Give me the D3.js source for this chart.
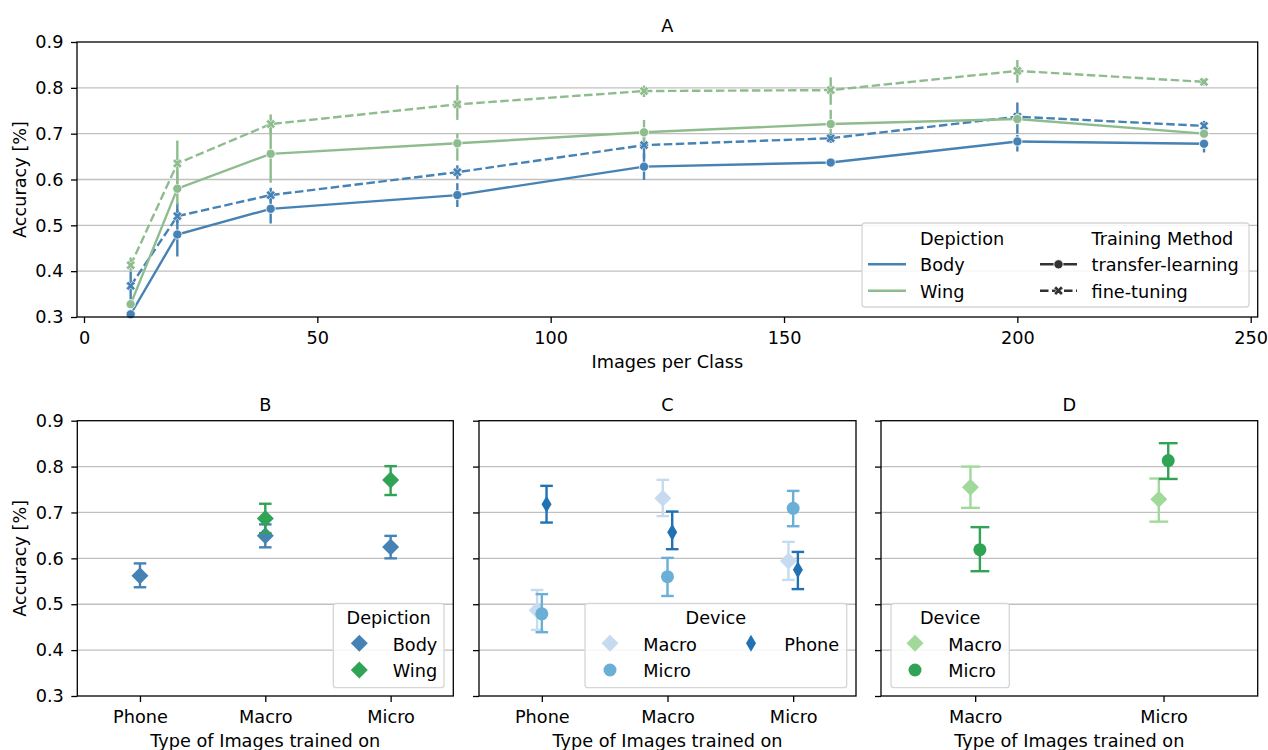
<!DOCTYPE html>
<html>
<head>
<meta charset="utf-8">
<script src="https://cdn.jsdelivr.net/npm/d3@7"></script>
<style>
  body { margin: 0; background: #fff; }
  svg text { font-family: "DejaVu Sans", sans-serif; font-size: 17.7px; fill: #000; }
</style>
</head>
<body>
<svg id="chart" width="1268" height="750"></svg>
<script>
// ---- data: panel A (accuracy vs images per class) ----
var sizes = [10, 20, 40, 80, 120, 160, 200, 240];

var bodyTransfer   = [0.306, 0.480, 0.536, 0.566, 0.628, 0.637, 0.683, 0.678];
var bodyTransferLo = [0.300, 0.432, 0.504, 0.540, 0.599, 0.632, 0.661, 0.659];
var bodyTransferHi = [0.312, 0.549, 0.566, 0.592, 0.657, 0.642, 0.697, 0.686];

var bodyFine   = [0.368, 0.520, 0.566, 0.616, 0.675, 0.690, 0.737, 0.717];
var bodyFineLo = [0.337, 0.505, 0.552, 0.601, 0.645, 0.680, 0.700, 0.705];
var bodyFineHi = [0.399, 0.535, 0.582, 0.631, 0.700, 0.700, 0.768, 0.728];

var wingTransfer   = [0.328, 0.580, 0.656, 0.679, 0.703, 0.721, 0.732, 0.700];
var wingTransferLo = [0.320, 0.545, 0.593, 0.641, 0.680, 0.700, 0.720, 0.690];
var wingTransferHi = [0.336, 0.620, 0.720, 0.700, 0.730, 0.752, 0.745, 0.710];

var wingFine   = [0.413, 0.635, 0.721, 0.764, 0.793, 0.795, 0.837, 0.813];
var wingFineLo = [0.400, 0.590, 0.700, 0.730, 0.780, 0.763, 0.811, 0.805];
var wingFineHi = [0.430, 0.685, 0.742, 0.806, 0.805, 0.823, 0.861, 0.820];

var sizeTicks = [0, 50, 100, 150, 200, 250];
var accTicks = [0.3, 0.4, 0.5, 0.6, 0.7, 0.8, 0.9];

// ---- data: panel B (depiction) ----
var bCats = ["Phone", "Macro", "Micro"];
var bBody   = [0.562, 0.649, 0.625];
var bBodyLo = [0.537, 0.624, 0.600];
var bBodyHi = [0.589, 0.674, 0.649];
var bWing   = [null, 0.687, 0.771];
var bWingLo = [null, 0.655, 0.738];
var bWingHi = [null, 0.719, 0.801];

// ---- data: panel C (body, by device) ----
var cCats = ["Phone", "Macro", "Micro"];
var cMacro   = [0.487, 0.731, 0.594];
var cMacroLo = [0.444, 0.692, 0.553];
var cMacroHi = [0.531, 0.771, 0.636];
var cMicro   = [0.479, 0.560, 0.709];
var cMicroLo = [0.439, 0.518, 0.670];
var cMicroHi = [0.522, 0.601, 0.747];
var cPhone   = [0.718, 0.657, 0.575];
var cPhoneLo = [0.678, 0.620, 0.533];
var cPhoneHi = [0.758, 0.702, 0.614];

// ---- data: panel D (wing, by device) ----
var dCats = ["Macro", "Micro"];
var dMacro   = [0.755, 0.729];
var dMacroLo = [0.710, 0.680];
var dMacroHi = [0.800, 0.774];
var dMicro   = [0.619, 0.813];
var dMicroLo = [0.572, 0.773];
var dMicroHi = [0.668, 0.851];

var svg = d3.select("#chart");
var GRID = "#c0c0c0";

function yFrame(x0, x1, y0, y1, showLabels) {
  var y = d3.scaleLinear().domain([0.3, 0.9]).range([y1, y0]);
  var g = svg.append("g");
  g.selectAll("line.grid").data(accTicks.slice(1, -1)).enter().append("line")
    .attr("class", "grid")
    .attr("x1", x0).attr("x2", x1)
    .attr("y1", function(d) { return y(d); }).attr("y2", function(d) { return y(d); })
    .attr("stroke", GRID).attr("stroke-width", 1.3);
  var ax = svg.append("g").attr("transform", "translate(" + x0 + ",0)")
    .call(d3.axisLeft(y).tickValues(accTicks).tickSize(6).tickPadding(7.5)
      .tickFormat(showLabels ? d3.format(".1f") : function() { return ""; }));
  ax.select(".domain").remove();
  ax.selectAll("line").attr("stroke", "#000").attr("stroke-width", 1.3);
  return y;
}

function spines(x0, x1, y0, y1) {
  svg.append("rect").attr("x", x0).attr("y", y0).attr("width", x1 - x0).attr("height", y1 - y0)
    .attr("fill", "none").attr("stroke", "#000").attr("stroke-width", 1.3);
}

function xPath(cx, cy, s, t) {
  var pts = [[t,s],[t,t],[s,t],[s,-t],[t,-t],[t,-s],[-t,-s],[-t,-t],[-s,-t],[-s,t],[-t,t],[-t,s]];
  var c = Math.SQRT1_2;
  return "M" + pts.map(function(p) {
    return [cx + (p[0] - p[1]) * c, cy + (p[0] + p[1]) * c].join(",");
  }).join("L") + "Z";
}

function marker(g, shape, cx, cy, color, edge) {
  if (shape === "o") {
    g.append("circle").attr("cx", cx).attr("cy", cy).attr("r", 6.5).attr("fill", color);
  } else if (shape === "D" || shape === "d") {
    var w = shape === "D" ? 8.5 : 5, h = 8.5;
    g.append("path").attr("d", "M" + cx + "," + (cy - h) + "L" + (cx + w) + "," + cy +
      "L" + cx + "," + (cy + h) + "L" + (cx - w) + "," + cy + "Z").attr("fill", color);
  } else if (shape === "small-o") {
    g.append("circle").attr("cx", cx).attr("cy", cy).attr("r", 4.6).attr("fill", color)
      .attr("stroke", edge || "#fff").attr("stroke-width", 0.8);
  } else if (shape === "X") {
    g.append("path").attr("d", xPath(cx, cy, 5, 1.6)).attr("fill", color)
      .attr("stroke", edge || "#fff").attr("stroke-width", 0.6);
  }
}

// =============== Panel A ===============
var A = { x0: 77, x1: 1257.7, y0: 42, y1: 317 };
var xA = d3.scaleLinear().domain([-1.5, 251.5]).range([A.x0, A.x1]);
var yA = yFrame(A.x0, A.x1, A.y0, A.y1, true);

var axA = svg.append("g").attr("transform", "translate(0," + A.y1 + ")")
  .call(d3.axisBottom(xA).tickValues(sizeTicks).tickSize(6).tickPadding(8));
axA.select(".domain").remove();
axA.selectAll("line").attr("stroke-width", 1.3);

var depColor = { Body: "#4682b4", Wing: "#8fbc8f" };
var aSeries = [
  { dep: "Body", method: "transfer", mean: bodyTransfer, lo: bodyTransferLo, hi: bodyTransferHi },
  { dep: "Body", method: "fine", mean: bodyFine, lo: bodyFineLo, hi: bodyFineHi },
  { dep: "Wing", method: "transfer", mean: wingTransfer, lo: wingTransferLo, hi: wingTransferHi },
  { dep: "Wing", method: "fine", mean: wingFine, lo: wingFineLo, hi: wingFineHi }
];

var lineA = d3.line().x(function(d) { return xA(d[0]); }).y(function(d) { return yA(d[1]); });

aSeries.forEach(function(s) {
  var col = depColor[s.dep];
  var g = svg.append("g");
  g.append("path").datum(sizes.map(function(x, i) { return [x, s.mean[i]]; }))
    .attr("d", lineA).attr("fill", "none").attr("stroke", col).attr("stroke-width", 2.4)
    .attr("stroke-dasharray", s.method === "fine" ? "8.5,3.5" : null);
  g.selectAll("line.err").data(sizes).enter().append("line")
    .attr("x1", function(d) { return xA(d); }).attr("x2", function(d) { return xA(d); })
    .attr("y1", function(d, i) { return yA(s.lo[i]); })
    .attr("y2", function(d, i) { return yA(s.hi[i]); })
    .attr("stroke", col).attr("stroke-width", 2.4);
  sizes.forEach(function(x, i) {
    marker(g, s.method === "fine" ? "X" : "small-o", xA(x), yA(s.mean[i]), col);
  });
});
spines(A.x0, A.x1, A.y0, A.y1);

svg.append("text").attr("x", (A.x0 + A.x1) / 2).attr("y", 31.5).attr("text-anchor", "middle").text("A");
svg.append("text").attr("x", (A.x0 + A.x1) / 2).attr("y", 367.5).attr("text-anchor", "middle").text("Images per Class");
svg.append("text").attr("transform", "translate(26," + (A.y0 + A.y1) / 2 + ") rotate(-90)")
  .attr("text-anchor", "middle").text("Accuracy [%]");

// legend A
var lgA = svg.append("g");
lgA.append("rect").attr("x", 862).attr("y", 223).attr("width", 387).attr("height", 84).attr("rx", 3)
  .attr("fill", "#fff").attr("fill-opacity", 0.85).attr("stroke", "#d6d6d6").attr("stroke-width", 1.3);
lgA.append("text").attr("x", 920).attr("y", 245).text("Depiction");
lgA.append("text").attr("x", 1091.5).attr("y", 245).text("Training Method");
[["Body", 271, 264.3], ["Wing", 297.5, 290.7]].forEach(function(e) {
  lgA.append("line").attr("x1", 868).attr("x2", 906).attr("y1", e[2]).attr("y2", e[2])
    .attr("stroke", depColor[e[0]]).attr("stroke-width", 2.4);
  lgA.append("text").attr("x", 920).attr("y", e[1]).text(e[0]);
});
[["transfer-learning", 271, 264.3, null, "small-o"], ["fine-tuning", 297.5, 290.7, "8.5,3.5", "X"]].forEach(function(e) {
  lgA.append("line").attr("x1", 1040).attr("x2", 1077).attr("y1", e[2]).attr("y2", e[2])
    .attr("stroke", "#333").attr("stroke-width", 2.4).attr("stroke-dasharray", e[3]);
  marker(lgA, e[4], 1058.5, e[2], "#333");
  lgA.append("text").attr("x", 1091.5).attr("y", e[1]).text(e[0]);
});

// =============== Panels B, C, D ===============
function pointPanel(opt) {
  var x0 = opt.x0, x1 = opt.x1, y0 = 420.7, y1 = 696;
  var y = yFrame(x0, x1, y0, y1, opt.yLabels);
  var x = d3.scalePoint().domain(opt.cats).range([x0, x1]).padding(0.5);
  var ax = svg.append("g").attr("transform", "translate(0," + y1 + ")")
    .call(d3.axisBottom(x).tickSize(6).tickPadding(8));
  ax.select(".domain").remove();
  ax.selectAll("line").attr("stroke-width", 1.3);

  var step = x.step();
  var n = opt.series.length;
  var dodge = opt.dodge ? 0.025 * n : 0;
  opt.series.forEach(function(s, k) {
    var off = n > 1 && opt.dodge ? (-dodge / 2 + dodge * k / (n - 1)) * step : 0;
    var g = svg.append("g");
    opt.cats.forEach(function(c, i) {
      if (s.mean[i] == null) return;
      var cx = x(c) + off, cap = 0.05 * step;
      g.append("line").attr("x1", cx).attr("x2", cx).attr("y1", y(s.lo[i])).attr("y2", y(s.hi[i]))
        .attr("stroke", s.color).attr("stroke-width", 2.4);
      [s.lo[i], s.hi[i]].forEach(function(v) {
        g.append("line").attr("x1", cx - cap).attr("x2", cx + cap).attr("y1", y(v)).attr("y2", y(v))
          .attr("stroke", s.color).attr("stroke-width", 2.4);
      });
      marker(g, s.shape, cx, y(s.mean[i]), s.color);
    });
  });
  spines(x0, x1, y0, y1);

  var cxm = (x0 + x1) / 2;
  svg.append("text").attr("x", cxm).attr("y", 410.7).attr("text-anchor", "middle").text(opt.title);
  svg.append("text").attr("x", cxm).attr("y", 747).attr("text-anchor", "middle").text("Type of Images trained on");
  if (opt.yLabels) {
    svg.append("text").attr("transform", "translate(26," + (y0 + y1) / 2 + ") rotate(-90)")
      .attr("text-anchor", "middle").text("Accuracy [%]");
  }

  // legend
  var L = opt.legend;
  var lg = svg.append("g");
  lg.append("rect").attr("x", L.x).attr("y", 603.3).attr("width", L.w).attr("height", 84.4).attr("rx", 3)
    .attr("fill", "#fff").attr("fill-opacity", 0.85).attr("stroke", "#d6d6d6").attr("stroke-width", 1.3);
  lg.append("text").attr("x", L.x + L.w / 2).attr("y", 624).attr("text-anchor", "middle").text(L.title);
  opt.series.forEach(function(s, k) {
    var col = k < 2 ? 0 : 1, row = k % 2;
    var mx = L.mx[col], my = row === 0 ? 643.3 : 670;
    marker(lg, s.shape, mx, my, s.color);
    lg.append("text").attr("x", mx + L.dx).attr("y", row === 0 ? 650.7 : 677.3).text(s.name);
  });
}

pointPanel({
  title: "B", x0: 77.3, x1: 453.3, cats: bCats, yLabels: true, dodge: false,
  series: [
    { name: "Body", shape: "D", color: "#4682b4", mean: bBody, lo: bBodyLo, hi: bBodyHi },
    { name: "Wing", shape: "D", color: "#31a354", mean: bWing, lo: bWingLo, hi: bWingHi }
  ],
  legend: { x: 333.3, w: 110.7, title: "Depiction", mx: [359.3], dx: 33.4 }
});

pointPanel({
  title: "C", x0: 479, x1: 856, cats: cCats, yLabels: false, dodge: true,
  series: [
    { name: "Macro", shape: "D", color: "#c6dbef", mean: cMacro, lo: cMacroLo, hi: cMacroHi },
    { name: "Micro", shape: "o", color: "#6baed6", mean: cMicro, lo: cMicroLo, hi: cMicroHi },
    { name: "Phone", shape: "d", color: "#2171b5", mean: cPhone, lo: cPhoneLo, hi: cPhoneHi }
  ],
  legend: { x: 585, w: 261.7, title: "Device", mx: [610, 751], dx: 33.3 }
});

pointPanel({
  title: "D", x0: 881, x1: 1257.7, cats: dCats, yLabels: false, dodge: true,
  series: [
    { name: "Macro", shape: "D", color: "#a1d99b", mean: dMacro, lo: dMacroLo, hi: dMacroHi },
    { name: "Micro", shape: "o", color: "#31a354", mean: dMicro, lo: dMicroLo, hi: dMicroHi }
  ],
  legend: { x: 891, w: 118.3, title: "Device", mx: [915], dx: 33.3 }
});
</script>
</body>
</html>
